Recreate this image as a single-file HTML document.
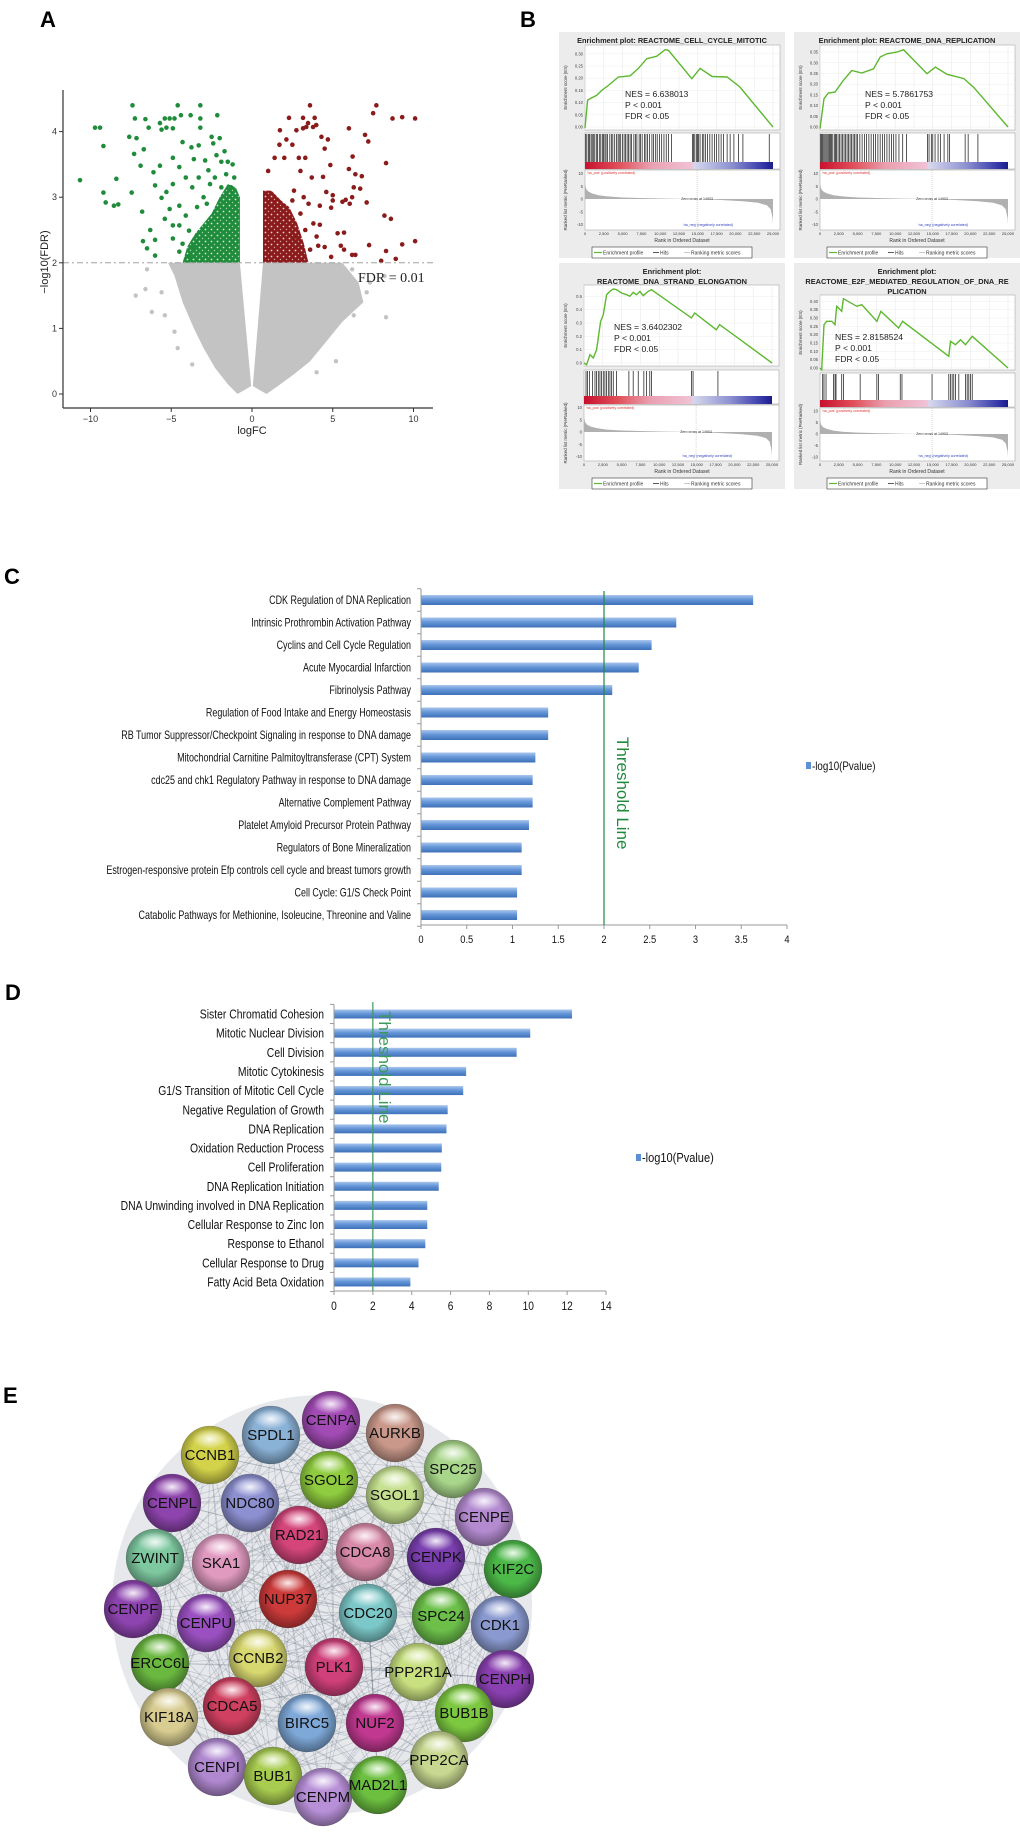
<!DOCTYPE html>
<html><head><meta charset="utf-8"><title>Figure</title>
<style>
html,body{margin:0;padding:0;background:#fff;}
svg{display:block;font-family:"Liberation Sans",Arial,sans-serif;}
</style></head>
<body>
<svg id="fig" xmlns="http://www.w3.org/2000/svg" width="1020" height="1832" viewBox="0 0 1020 1832">
<defs>
<linearGradient id="barGrad" x1="0" y1="0" x2="0" y2="1">
<stop offset="0" stop-color="#a9c6ee"/><stop offset="0.45" stop-color="#6596d8"/><stop offset="1" stop-color="#3d70b8"/>
</linearGradient>
<linearGradient id="cbar" x1="0" y1="0" x2="1" y2="0">
<stop offset="0" stop-color="#c8102e"/><stop offset="0.18" stop-color="#e0505a"/><stop offset="0.35" stop-color="#e9a0b0"/><stop offset="0.57" stop-color="#f1c2d6"/><stop offset="0.58" stop-color="#d6d8ee"/><stop offset="0.78" stop-color="#8c90d0"/><stop offset="0.95" stop-color="#3436a8"/><stop offset="1" stop-color="#1a1c8c"/>
</linearGradient>
<radialGradient id="sphShade" cx="50%" cy="45%" r="55%">
<stop offset="0.55" stop-color="#000" stop-opacity="0"/><stop offset="1" stop-color="#000" stop-opacity="0.38"/>
</radialGradient>
<radialGradient id="sphHi" cx="50%" cy="50%" r="50%">
<stop offset="0" stop-color="#fff" stop-opacity="0.9"/><stop offset="1" stop-color="#fff" stop-opacity="0"/>
</radialGradient>
<pattern id="gDots" width="6" height="6" patternUnits="userSpaceOnUse">
<rect width="6" height="6" fill="#1e8c3a"/><circle cx="1.5" cy="1.5" r="0.9" fill="#fff" opacity="0.8"/><circle cx="4.5" cy="4.5" r="0.7" fill="#fff" opacity="0.6"/>
</pattern>
<pattern id="rDots" width="6" height="6" patternUnits="userSpaceOnUse">
<rect width="6" height="6" fill="#8b1a1a"/><circle cx="1.5" cy="4.5" r="0.9" fill="#fff" opacity="0.8"/><circle cx="4.5" cy="1.5" r="0.7" fill="#fff" opacity="0.6"/>
</pattern>
</defs>
<text x="40" y="27" font-size="22" font-weight="bold">A</text>
<text x="520" y="27" font-size="22" font-weight="bold">B</text>
<text x="4" y="584" font-size="22" font-weight="bold">C</text>
<text x="5" y="1000" font-size="22" font-weight="bold">D</text>
<text x="3" y="1403" font-size="22" font-weight="bold">E</text>
</svg>
<script>
const NS='http://www.w3.org/2000/svg';
const svg=document.getElementById('fig');
function mk(tag,attrs,parent,txt){const e=document.createElementNS(NS,tag);for(const k in attrs)e.setAttribute(k,attrs[k]);if(txt!==undefined)e.textContent=txt;(parent||svg).appendChild(e);return e;}

/* ===== Panel A data (logFC, -log10 FDR) ===== */
const greenPts=[[-10.65,3.26],[-9.72,4.06],[-9.41,4.06],[-9.2,3.78],[-9.2,3.07],[-9.06,2.92],[-8.55,2.87],[-8.28,2.89],[-8.4,3.28],[-7.6,3.92],[-7.4,4.4],[-7.25,4.2],[-7.15,3.9],[-7.3,3.66],[-7.45,3.07],[-6.8,2.78],[-6.6,4.19],[-6.4,4.06],[-6.7,3.73],[-6.9,3.48],[-6.75,2.33],[-6.5,2.22],[-6.0,2.11],[-6.3,2.5],[-6.0,2.35],[-6.1,3.38],[-5.7,3.48],[-6.0,3.18],[-5.7,4.13],[-5.4,4.2],[-5.1,4.2],[-4.8,4.2],[-4.6,4.4],[-4.4,4.25],[-3.8,4.25],[-3.2,4.4],[-3.2,4.2],[-3.2,4.06],[-2.15,4.25],[-5.6,4.03],[-5.3,4.06],[-4.9,4.05],[-4.3,3.84],[-3.75,3.76],[-3.3,3.79],[-3.6,3.58],[-4.9,3.6],[-4.5,3.46],[-4.9,3.2],[-5.3,3.08],[-4.1,3.3],[-3.7,3.15],[-3.3,3.3],[-5.6,2.99],[-5.1,2.82],[-5.4,2.67],[-4.9,2.57],[-4.5,2.87],[-4.1,2.72],[-4.5,2.57],[-3.9,2.49],[-4.9,2.37],[-4.3,2.29],[-3.7,2.24],[-4.5,2.17],[-3.9,2.1],[-2.5,3.92],[-2.4,3.82],[-2.2,3.64],[-1.9,3.54],[-1.5,3.54],[-2.9,3.56],[-2.7,3.41],[-2.0,3.9],[-1.7,3.7],[-2.6,3.2],[-3.0,3.0],[-2.8,2.9],[-1.2,3.5],[-1.1,3.3],[-1.6,3.35],[-2.3,3.3],[-3.4,2.85],[-1.9,3.15],[-1.3,3.15]];
const greenDense=[[-0.75,2],[-0.75,3.0],[-1.0,3.15],[-1.5,3.2],[-2.0,3.0],[-2.5,2.75],[-3.0,2.6],[-3.5,2.45],[-4.0,2.25],[-4.3,2.0]];
const redPts=[[3.59,4.4],[2.29,4.21],[1.73,4.02],[2.13,3.88],[2.75,4.02],[3.16,4.05],[3.36,4.07],[3.78,4.07],[3.98,4.1],[3.16,4.21],[3.88,4.21],[3.47,4.13],[4.3,3.92],[4.7,3.88],[4.5,3.74],[4.85,3.49],[4.4,3.31],[4.6,3.08],[5.0,3.03],[5.0,2.95],[4.2,2.87],[4.9,2.84],[4.2,2.58],[4.0,2.4],[4.5,2.24],[4.1,2.26],[4.9,2.09],[6.0,4.05],[6.23,3.62],[6.0,3.43],[6.4,3.35],[6.8,3.32],[6.3,3.15],[6.7,3.13],[5.6,2.93],[5.8,2.96],[6.2,3.0],[6.05,2.9],[5.3,2.45],[5.7,2.46],[5.5,2.26],[5.7,2.2],[6.2,2.12],[6.4,2.12],[7.0,3.95],[7.2,3.85],[7.1,2.92],[7.25,2.27],[7.5,4.28],[7.7,4.4],[8.7,4.2],[9.3,4.22],[10.1,4.2],[8.3,3.52],[8.2,2.72],[8.6,2.67],[8.3,2.18],[9.3,2.28],[8.9,2.06],[10.1,2.33],[8.0,2.03],[2.0,3.6],[1.4,3.6],[2.5,3.8],[3.0,3.4],[3.3,3.6],[3.2,3.0],[2.6,3.1],[3.7,3.3],[3.8,2.6],[3.6,2.2],[1.0,3.4],[1.7,3.8],[2.9,3.6],[3.5,2.9],[2.5,2.95],[3.0,2.75],[2.7,2.4],[3.3,2.5]];
const redDense=[[0.68,2],[0.68,3.1],[1.2,3.1],[1.8,2.95],[2.3,2.85],[2.8,2.6],[3.2,2.3],[3.5,2.0]];
const grayLeft=[[-0.9,0],[-1.5,0.15],[-2.3,0.4],[-3.0,0.7],[-3.6,1.0],[-4.3,1.4],[-4.8,1.8],[-5.2,2.0],[-0.75,2.0],[-0.05,0.12]];
const grayRight=[[0.05,0.12],[0.68,2.0],[5.6,2.0],[6.6,1.7],[6.9,1.4],[5.6,1.1],[4.6,0.8],[3.6,0.5],[2.6,0.3],[1.6,0.12],[0.9,0]];
const grayPts=[[-6.2,1.25],[-5.6,1.55],[-6.6,1.6],[-7.2,1.5],[-6.5,1.9],[-5.4,1.2],[-4.8,0.95],[-4.6,0.7],[-3.7,0.45],[5.2,0.5],[4.0,0.33],[8.3,1.17],[6.3,1.2],[7.1,1.55],[7.3,1.7],[6.2,1.9],[8.2,1.8]];
const aXTicks=[-10,-5,0,5,10];
const aYTicks=[0,1,2,3,4];
const fdrCut=2;

const xA=v=>252+16.15*v, yA=v=>394-65.6*v;
const gA=mk('g',{});


const toPts=a=>a.map(p=>xA(p[0]).toFixed(1)+','+yA(p[1]).toFixed(1)).join(' ');
let e;
e=mk('polygon',{points:toPts(grayLeft),fill:'#c3c3c3'},gA);


e=mk('polygon',{points:toPts(grayRight),fill:'#c3c3c3'},gA);


grayPts.forEach(p=>{const c=mk('circle',{cx:xA(p[0]),cy:yA(p[1]),r:2.2,fill:'#c3c3c3'},gA);

});
e=mk('polygon',{points:toPts(greenDense),fill:'url(#gDots)'},gA);


e=mk('polygon',{points:toPts(redDense),fill:'url(#rDots)'},gA);


greenPts.forEach(p=>{const c=mk('circle',{cx:xA(p[0]),cy:yA(p[1]),r:2.3,fill:'#1e8c3a'},gA);

});
redPts.forEach(p=>{const c=mk('circle',{cx:xA(p[0]),cy:yA(p[1]),r:2.3,fill:'#8b1a1a'},gA);

});
e=mk('line',{x1:63,x2:433,y1:yA(fdrCut),y2:yA(fdrCut),stroke:'#a0a0a0','stroke-width':1,'stroke-dasharray':'6 3 2 3'},gA);


e=mk('text',{x:358,y:282,'font-size':14,'font-family':'Liberation Serif, serif',fill:'#222'},gA,'FDR = 0.01');


e=mk('line',{x1:63,x2:63,y1:90,y2:408,stroke:'#333','stroke-width':1.2},gA);


e=mk('line',{x1:63,x2:433,y1:408,y2:408,stroke:'#333','stroke-width':1.2},gA);


aYTicks.forEach(t=>{mk('line',{x1:59,x2:63,y1:yA(t),y2:yA(t),stroke:'#333'},gA);
const l=mk('text',{x:57,y:yA(t)+3,'font-size':9,'text-anchor':'end',fill:'#333'},gA,String(t));

});
aXTicks.forEach(t=>{mk('line',{x1:xA(t),x2:xA(t),y1:408,y2:412,stroke:'#333'},gA);
const l=mk('text',{x:xA(t),y:422,'font-size':9,'text-anchor':'middle',fill:'#333'},gA,t<0?'\u2212'+(-t):String(t));

});
e=mk('text',{x:252,y:434,'font-size':11,'text-anchor':'middle',fill:'#222'},gA,'logFC');


e=mk('text',{x:0,y:0,'font-size':11,'text-anchor':'middle',fill:'#222',transform:'translate(48,262) rotate(-90)'},gA,'\u2212log10(FDR)');



/* ===== Panel B: GSEA data (rank, ES) ===== */
const es1=[[0,-0.004],[350,0.11],[670,0.116],[1550,0.13],[2220,0.15],[3100,0.17],[4440,0.205],[6000,0.21],[7100,0.24],[8200,0.28],[9550,0.29],[10660,0.317],[11100,0.314],[14200,0.198],[15300,0.24],[16900,0.207],[18900,0.205],[20600,0.164],[25000,0]];
const es2=[[0,-0.008],[530,0.132],[1110,0.159],[2000,0.163],[3110,0.218],[4230,0.264],[5560,0.252],[7120,0.272],[8010,0.327],[8900,0.342],[10230,0.35],[11120,0.361],[14230,0.249],[15350,0.28],[16900,0.246],[19130,0.226],[20460,0.184],[25000,0]];
const es3=[[0,0],[350,-0.012],[800,0.062],[1240,0.038],[1680,0.1],[2210,0.312],[2560,0.362],[3000,0.512],[3450,0.538],[3890,0.555],[4330,0.55],[4990,0.525],[5660,0.512],[6100,0.5],[6540,0.53],[6980,0.512],[7430,0.537],[7870,0.505],[8530,0.537],[8970,0.55],[14280,0.338],[14720,0.375],[17590,0.25],[18030,0.288],[25000,0]];
const es4=[[0,0],[220,-0.01],[530,0.26],[890,0.28],[1560,0.28],[2000,0.26],[2220,0.37],[2890,0.34],[3110,0.416],[4890,0.37],[5560,0.38],[7560,0.28],[8100,0.34],[10450,0.24],[10990,0.28],[17130,0.07],[17350,0.16],[18010,0.14],[18680,0.17],[19350,0.14],[20240,0.19],[25000,0]];
const hits1=[100,250,450,600,800,950,1100,1300,1500,1650,1900,2100,2300,2450,2650,2800,3000,3300,3500,3700,3950,4200,4400,4550,4750,5000,5200,5400,5600,5800,6000,6200,6500,6700,6900,7200,7400,7600,7900,8100,8300,8600,8900,9100,9400,9600,9900,10200,10500,10800,11100,11500,14300,14450,14600,14800,14950,15100,15300,15600,15800,16000,16300,16600,16900,17200,17500,17800,18100,18400,18900,19300,19800,20400,21000,24500];
const hits2=[100,200,350,500,650,800,950,1100,1250,1400,1550,1700,1900,2050,2200,2400,2600,2800,3000,3200,3400,3600,3800,4000,4200,4400,4600,4800,5000,5300,5600,5900,6200,6500,6800,7100,7400,7700,8000,8300,8600,8900,9200,9500,9800,10100,10500,11000,11500,14300,14500,14800,15000,15300,15700,16000,16500,17000,17200,19300,19700,21000];
const hits3=[270,450,710,1150,1460,1680,1900,2120,2340,2560,2780,3000,3230,3450,3670,3890,4330,5970,6540,7210,7960,8310,8750,8970,14280,14500,17810];
const hits4=[360,530,800,1780,2000,2130,2890,3110,5340,7560,7780,10670,10900,14900,17130,17350,17570,17790,18010,18460,19350,19570,19790,20020,20240];
const rankMetric=[[0,6],[150,4],[400,3],[900,2.2],[1800,1.5],[3000,1.0],[5000,0.6],[8000,0.35],[11000,0.15],[14903,0],[18000,-0.4],[21000,-0.9],[23000,-1.5],[24200,-2.5],[24700,-4],[24950,-7.5],[25000,-10]];
const rankTicks=[0,2500,5000,7500,10000,12500,15000,17500,20000,22500,25000];

function gsea(P){
const g=mk('g',{});


const x0=P.x0,y0=P.y0;
mk('rect',{x:x0,y:y0,width:226,height:226,fill:'#ececec'},g);
P.title.forEach((t,i)=>{const tt=mk('text',{x:x0+113,y:y0+11+i*10,'font-size':7.4,'font-weight':'bold','text-anchor':'middle',fill:'#222'},g,t);

});
const xr=r=>x0+P.px0+(r/25000)*188;
const ye=v=>y0+P.esBot-(v-P.esMin)/(P.esMax-P.esMin)*(P.esBot-P.esTop);
mk('rect',{x:x0+P.px0,y:y0+P.esTop,width:195,height:P.esBot-P.esTop,fill:'#fff',stroke:'#999','stroke-width':0.5},g);
rankTicks.forEach(r=>mk('line',{x1:xr(r),x2:xr(r),y1:y0+P.esTop,y2:y0+P.esBot,stroke:'#e6e6e6','stroke-width':0.5},g));
P.esTicks.forEach(t=>{mk('line',{x1:x0+P.px0,x2:x0+P.px0+195,y1:ye(t),y2:ye(t),stroke:'#eee','stroke-width':0.5},g);
mk('text',{x:x0+P.px0-2,y:ye(t)+1.5,'font-size':4.2,'text-anchor':'end',fill:'#444'},g,t.toFixed(P.dec));});
const pl=mk('polyline',{points:P.es.map(p=>xr(p[0]).toFixed(1)+','+ye(p[1]).toFixed(1)).join(' '),fill:'none',stroke:'#5cb82e','stroke-width':1.4},g);


P.nes.forEach((t,i)=>{const tt=mk('text',{x:x0+P.nesX,y:y0+P.nesY+i*11,'font-size':8.6,fill:'#222'},g,t);

});
mk('rect',{x:x0+P.px0,y:y0+P.hitTop,width:195,height:P.barBot-P.hitTop,fill:'#fff',stroke:'#999','stroke-width':0.5},g);
P.hits.forEach(r=>{const h=mk('line',{x1:xr(r),x2:xr(r),y1:y0+P.hitTop+1,y2:y0+P.hitBot,stroke:'#111','stroke-width':0.7},g);

});
mk('rect',{x:x0+P.px0,y:y0+P.hitBot,width:188,height:P.barBot-P.hitBot,fill:'url(#cbar)'},g);
mk('rect',{x:x0+P.px0,y:y0+P.rkTop,width:195,height:198-P.rkTop,fill:'#fff',stroke:'#999','stroke-width':0.5},g);
const yr=m=>y0+P.rkZero-m*P.rkScale;
const poly=[[0,0]].concat(rankMetric).concat([[25000,0]]);
const rk=mk('polygon',{points:poly.map(p=>xr(p[0]).toFixed(1)+','+yr(p[1]).toFixed(1)).join(' '),fill:'#b0b0b0'},g);


[10,5,0,-5,-10].forEach(t=>mk('text',{x:x0+P.px0-2,y:yr(t)+1.5,'font-size':4.2,'text-anchor':'end',fill:'#444'},g,String(t)));
mk('line',{x1:xr(14903),x2:xr(14903),y1:y0+P.rkTop,y2:y0+198,stroke:'#999','stroke-width':0.4,'stroke-dasharray':'1 1'},g);
mk('text',{x:x0+P.px0+2,y:y0+P.rkTop+4,'font-size':3.6,fill:'#e03030'},g,"'na_pos' (positively correlated)");
mk('text',{x:x0+P.px0+98,y:y0+194,'font-size':3.6,fill:'#3040c0'},g,"'na_neg' (negatively correlated)");
mk('text',{x:xr(14903),y:y0+P.rkZero+1,'font-size':3.6,'text-anchor':'middle',fill:'#333'},g,'Zero cross at 14903');
rankTicks.forEach(r=>mk('text',{x:xr(r),y:y0+203,'font-size':4,'text-anchor':'middle',fill:'#333'},g,r.toLocaleString('en-US')));
mk('text',{x:x0+123,y:y0+210,'font-size':5,'text-anchor':'middle',fill:'#333'},g,'Rank in Ordered Dataset');
mk('text',{x:0,y:0,'font-size':4.4,'text-anchor':'middle',fill:'#333',transform:`translate(${x0+8},${y0+(P.esTop+P.esBot)/2}) rotate(-90)`},g,'Enrichment score (ES)');
mk('text',{x:0,y:0,'font-size':4.4,'text-anchor':'middle',fill:'#333',transform:`translate(${x0+8},${y0+(P.rkTop+198)/2}) rotate(-90)`},g,'Ranked list metric (PreRanked)');
const lg=mk('g',{},g);


mk('rect',{x:x0+33,y:y0+215,width:160,height:11,fill:'#fff',stroke:'#333','stroke-width':0.6},lg);
mk('line',{x1:x0+35,x2:x0+43,y1:y0+220.5,y2:y0+220.5,stroke:'#5cb82e','stroke-width':1.2},lg);
mk('text',{x:x0+44,y:y0+222.5,'font-size':5,fill:'#333'},lg,'Enrichment profile');
mk('line',{x1:x0+94,x2:x0+100,y1:y0+220.5,y2:y0+220.5,stroke:'#333','stroke-width':0.8},lg);
mk('text',{x:x0+101,y:y0+222.5,'font-size':5,fill:'#333'},lg,'Hits');
mk('line',{x1:x0+125,x2:x0+131,y1:y0+220.5,y2:y0+220.5,stroke:'#bbb','stroke-width':0.8},lg);
mk('text',{x:x0+132,y:y0+222.5,'font-size':5,fill:'#333'},lg,'Ranking metric scores');
}
const t1=[0,0.05,0.1,0.15,0.2,0.25,0.3], t2=[0,0.05,0.1,0.15,0.2,0.25,0.3,0.35], t3=[0,0.1,0.2,0.3,0.4,0.5], t4=[0,0.05,0.1,0.15,0.2,0.25,0.3,0.35,0.4];
gsea({name:'gsea-cell-cycle-mitotic',x0:559,y0:32,title:['Enrichment plot: REACTOME_CELL_CYCLE_MITOTIC'],px0:26,esTop:13,esBot:98,esMin:-0.012,esMax:0.336,esTicks:t1,dec:2,es:es1,hits:hits1,hitTop:101,hitBot:130,barBot:137,rkTop:138,rkZero:167,rkScale:2.55,nes:['NES = 6.638013','P < 0.001','FDR < 0.05'],nesX:66,nesY:65});
gsea({name:'gsea-dna-replication',x0:794,y0:32,title:['Enrichment plot: REACTOME_DNA_REPLICATION'],px0:26,esTop:13,esBot:98,esMin:-0.014,esMax:0.383,esTicks:t2,dec:2,es:es2,hits:hits2,hitTop:101,hitBot:130,barBot:137,rkTop:138,rkZero:167,rkScale:2.55,nes:['NES = 5.7861753','P < 0.001','FDR < 0.05'],nesX:71,nesY:65});
gsea({name:'gsea-dna-strand-elongation',x0:559,y0:263,title:['Enrichment plot:','REACTOME_DNA_STRAND_ELONGATION'],px0:25,esTop:22,esBot:103,esMin:-0.0225,esMax:0.585,esTicks:t3,dec:1,es:es3,hits:hits3,hitTop:107,hitBot:133,barBot:141,rkTop:142,rkZero:169,rkScale:2.45,nes:['NES = 3.6402302','P < 0.001','FDR < 0.05'],nesX:55,nesY:67});
gsea({name:'gsea-e2f-mediated-regulation',x0:794,y0:263,title:['Enrichment plot:','REACTOME_E2F_MEDIATED_REGULATION_OF_DNA_RE','PLICATION'],px0:26,esTop:32,esBot:107,esMin:-0.012,esMax:0.438,esTicks:t4,dec:2,es:es4,hits:hits4,hitTop:110,hitBot:137,barBot:144,rkTop:145,rkZero:171,rkScale:2.3,nes:['NES = 2.8158524','P < 0.001','FDR < 0.05'],nesX:41,nesY:77});

/* ===== Panel C / D ===== */
const cCats=['CDK Regulation of DNA Replication','Intrinsic Prothrombin  Activation Pathway','Cyclins and Cell Cycle Regulation','Acute Myocardial Infarction','Fibrinolysis Pathway','Regulation of Food Intake and Energy Homeostasis','RB Tumor Suppressor/Checkpoint  Signaling in response to DNA damage','Mitochondrial Carnitine Palmitoyltransferase (CPT) System','cdc25 and chk1 Regulatory Pathway in response to DNA damage','Alternative Complement Pathway','Platelet Amyloid Precursor Protein Pathway','Regulators of Bone Mineralization','Estrogen-responsive protein Efp controls cell cycle and breast tumors growth','Cell Cycle: G1/S Check Point','Catabolic Pathways for Methionine, Isoleucine, Threonine and Valine'];
const cVals=[3.63,2.79,2.52,2.38,2.09,1.39,1.39,1.25,1.22,1.22,1.18,1.10,1.10,1.05,1.05];
const cTicks=[0,0.5,1,1.5,2,2.5,3,3.5,4];
const cThreshold=2;
const dCats=['Sister Chromatid Cohesion','Mitotic Nuclear Division','Cell Division','Mitotic Cytokinesis','G1/S Transition of Mitotic Cell Cycle','Negative Regulation of Growth','DNA Replication','Oxidation Reduction Process','Cell Proliferation','DNA Replication Initiation','DNA Unwinding involved in DNA Replication','Cellular Response to Zinc Ion','Response to Ethanol','Cellular Response to Drug','Fatty Acid Beta Oxidation'];
const dVals=[12.25,10.1,9.4,6.8,6.65,5.85,5.79,5.55,5.52,5.39,4.8,4.8,4.7,4.35,3.93];
const dTicks=[0,2,4,6,8,10,12,14];
const dThreshold=2;

function barChart(o){
const g=mk('g',{});


const xs=v=>o.x0+o.k*v;
const yc=i=>o.yFirst+i*o.step;
o.cats.forEach((c,i)=>{
const b=mk('rect',{x:o.x0,y:yc(i)-o.bh/2,width:xs(o.vals[i])-o.x0,height:o.bh,fill:'url(#barGrad)'},g);


const l=mk('text',{x:0,y:0,'font-size':o.fs,'text-anchor':'end',fill:'#111',transform:`translate(${o.x0-10},${yc(i)+o.fs*0.35}) scale(${o.sx},1)`},g,c);

});
for(let i=0;i<=o.cats.length;i++){const yy=o.yFirst-o.step/2+i*o.step;mk('line',{x1:o.x0-4,x2:o.x0,y1:yy,y2:yy,stroke:'#999'},g);}
const ya=mk('line',{x1:o.x0,x2:o.x0,y1:o.yFirst-o.step/2,y2:o.axisY,stroke:'#999','stroke-width':1},g);


const xa=mk('line',{x1:o.x0,x2:xs(o.ticks[o.ticks.length-1]),y1:o.axisY,y2:o.axisY,stroke:'#999','stroke-width':1},g);


o.ticks.forEach(t=>{mk('line',{x1:xs(t),x2:xs(t),y1:o.axisY,y2:o.axisY+4,stroke:'#999'},g);
const l=mk('text',{x:0,y:0,'font-size':o.tfs,'text-anchor':'middle',fill:'#111',transform:`translate(${xs(t)},${o.axisY+o.tfs+7}) scale(0.85,1)`},g,String(t));

});
const th=mk('line',{x1:xs(o.thr),x2:xs(o.thr),y1:o.thrTop,y2:o.axisY,stroke:o.thrColor,'stroke-width':1.2},g);


const tt=mk('text',{x:0,y:0,'font-size':17,fill:o.thrColor,transform:`translate(${o.thrTx},${o.thrTy}) rotate(90)`},g,'Threshold Line');


const lg=mk('g',{},g);


mk('rect',{x:o.lgX,y:o.lgY-8,width:5,height:7,fill:'#5b8fd6'},lg);
mk('text',{x:0,y:0,'font-size':o.lfs,fill:'#111',transform:`translate(${o.lgX+6},${o.lgY}) scale(0.85,1)`},lg,'-log10(Pvalue)');
}
barChart({name:'pathway-bar-chart-c',cats:cCats,vals:cVals,ticks:cTicks,x0:421,k:91.5,yFirst:600,step:22.5,bh:10,axisY:925,fs:11.5,sx:0.78,tfs:11,thr:cThreshold,thrTop:591,thrColor:'#1f8a3e',thrTx:617,thrTy:737,lgX:806,lgY:770,lfs:11.5});
barChart({name:'go-bar-chart-d',cats:dCats,vals:dVals,ticks:dTicks,x0:334,k:19.43,yFirst:1014,step:19.14,bh:9,axisY:1291,fs:13,sx:0.8,tfs:12,thr:dThreshold,thrTop:1002,thrColor:'#3c9a5c',thrTx:379,thrTy:1011,lgX:636,lgY:1162,lfs:13});

/* ===== Panel E: PPI network (layout positions) ===== */
const nodes=[['CENPA',331,1420,'#a24bb5'],['AURKB',395,1433,'#c9988a'],['SPDL1',271,1435,'#8ab1d6'],['CCNB1',210,1455,'#d3d24a'],['SPC25',453,1469,'#a8d68a'],['SGOL2',329,1480,'#8fcc3f'],['SGOL1',395,1495,'#c5e08f'],['CENPL',172,1503,'#8e44ad'],['NDC80',250,1503,'#8c8fd0'],['CENPE',484,1517,'#b48bd0'],['RAD21',299,1535,'#d4457a'],['CDCA8',365,1552,'#d98aa8'],['CENPK',436,1557,'#7b3fb0'],['KIF2C',513,1569,'#4cb848'],['ZWINT',155,1558,'#7ec8a0'],['SKA1',221,1563,'#e09ac0'],['NUP37',288,1599,'#cc3a3a'],['CDC20',368,1613,'#7cc8c8'],['SPC24',441,1616,'#6cc04a'],['CDK1',500,1625,'#8a9ad0'],['CENPF',133,1609,'#8e44b0'],['CENPU',206,1623,'#9a50c0'],['ERCC6L',160,1663,'#6ab840'],['CCNB2',258,1658,'#d8d870'],['PLK1',334,1667,'#d0407a'],['PPP2R1A',418,1672,'#c8e080'],['CENPH',505,1679,'#8a40b0'],['BUB1B',464,1713,'#7cc840'],['KIF18A',169,1717,'#d8cc90'],['CDCA5',232,1706,'#d04060'],['BIRC5',307,1723,'#7ea8d8'],['NUF2',375,1723,'#c03890'],['PPP2CA',439,1760,'#c8d890'],['CENPI',217,1767,'#b088d0'],['BUB1',273,1776,'#a8cc50'],['CENPM',323,1797,'#b890d8'],['MAD2L1',378,1785,'#6cc040']];
const gE=mk('g',{});


e=mk('circle',{cx:322,cy:1605,r:210,fill:'#e6e8ec'},gE);


const gEd=mk('g',{stroke:'#4a5666','stroke-width':0.8,'stroke-opacity':0.22},gE);


for(let i=0;i<nodes.length;i++)for(let j=i+1;j<nodes.length;j++){const dx=nodes[i][1]-nodes[j][1],dy=nodes[i][2]-nodes[j][2];if(Math.hypot(dx,dy)<260){mk('line',{x1:nodes[i][1],y1:nodes[i][2],x2:nodes[j][1],y2:nodes[j][2]},gEd);}}
nodes.forEach(n=>{const g=mk('g',{},gE);


mk('circle',{cx:n[1],cy:n[2],r:29,fill:n[3],stroke:'#555','stroke-width':0.4,'stroke-opacity':0.5},g);
mk('circle',{cx:n[1],cy:n[2],r:29,fill:'url(#sphShade)'},g);
mk('ellipse',{cx:n[1],cy:n[2]-16,rx:18,ry:10,fill:'url(#sphHi)'},g);
const t=mk('text',{x:n[1],y:n[2]+5,'font-size':15,'text-anchor':'middle',fill:'#111'},g,n[0]);

});
</script>
</body></html>
